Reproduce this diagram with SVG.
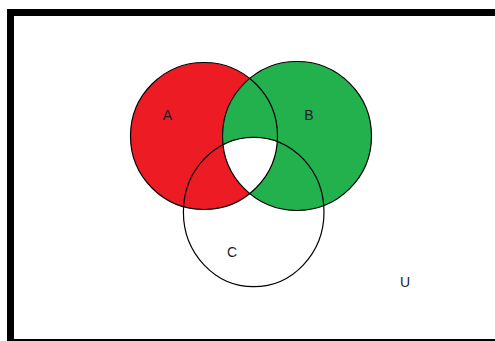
<svg xmlns="http://www.w3.org/2000/svg" width="495" height="341" viewBox="0 0 495 341">
<style>
.lbl{font-family:"Liberation Sans",Arial,sans-serif;font-size:14px;fill:#1c1c2a;text-anchor:middle}
.ring{fill:none;stroke:#000;stroke-width:1.2}
</style>
<defs>
<clipPath id="clipA"><circle cx="204" cy="136" r="73.5"/></clipPath>
<clipPath id="clipB"><circle cx="297" cy="136" r="74.5"/></clipPath>
</defs>
<rect x="0" y="0" width="495" height="341" fill="#fff"/>
<rect x="10.5" y="12.5" width="500" height="330" fill="none" stroke="#000" stroke-width="7"/>
<g id="setA"><circle cx="204" cy="136" r="73.5" fill="#ED1C24"/></g>
<g id="setB"><circle cx="297" cy="136" r="74.5" fill="#22B14C"/></g>
<g id="center" clip-path="url(#clipA)"><g clip-path="url(#clipB)"><ellipse cx="253.7" cy="212" rx="70.3" ry="74.7" fill="#fff"/></g></g>
<g id="outlines">
<circle class="ring" cx="204" cy="136" r="73.5"/>
<circle class="ring" cx="297" cy="136" r="74.5"/>
<ellipse class="ring" cx="253.7" cy="212" rx="70.3" ry="74.7"/>
</g>
<g id="labels">
<text class="lbl" x="167.5" y="119.5">A</text>
<text class="lbl" x="309" y="119.5">B</text>
<text class="lbl" x="232" y="256.5">C</text>
<text class="lbl" x="405" y="286.5">U</text>
</g>
</svg>
